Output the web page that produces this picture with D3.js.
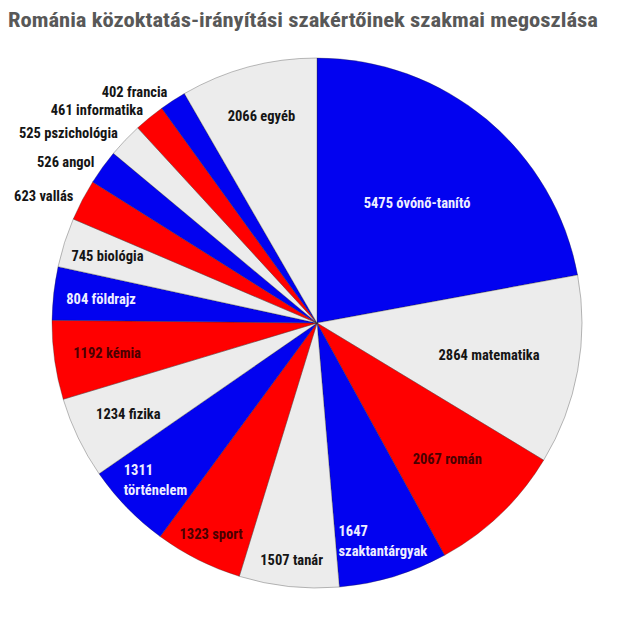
<!DOCTYPE html>
<html><head><meta charset="utf-8">
<script src="https://cdn.jsdelivr.net/npm/d3@7"></script>
<style>
html,body{margin:0;padding:0;background:#fff;}
text{font-family:"Liberation Sans Narrow","Arial Narrow","Roboto Condensed","DejaVu Sans Condensed",sans-serif;font-weight:bold;}
</style></head>
<body><svg id="c" width="640" height="622"></svg>
<script>
const title = "Románia közoktatás-irányítási szakértőinek szakmai megoszlása";
const categories = ["óvónő-tanító","matematika","román","szaktantárgyak","tanár","sport","történelem","fizika","kémia","földrajz","biológia","vallás","angol","pszichológia","informatika","francia","egyéb"];
const values = [5475,2864,2067,1647,1507,1323,1311,1234,1192,804,745,623,526,525,461,402,2066];

const W = 640, H = 622;
const cx = 317, cy = 323, R = 265;
const BLUE = "#0202f0", GRAY = "#ececec", RED = "#ff0000";
const svg = d3.select("#c");

svg.append("text").attr("x", 8).attr("y", 27).attr("font-size", 20.5)
  .attr("fill", "#585858").text(title)
  .each(function(){ const w=this.getComputedTextLength(); if (w>0) d3.select(this).attr("textLength",590).attr("lengthAdjust","spacingAndGlyphs"); });

const color = d3.scaleOrdinal().domain(categories).range([BLUE, GRAY, RED]);
const textColor = {[BLUE]:"#eeeeff",[GRAY]:"#151515",[RED]:"#4a0000"};

const data = categories.map((c,i)=>({cat:c, val:values[i]}));
const pie = d3.pie().sort(null).value(d=>d.val);
const arcs = pie(data);
const arc = d3.arc().innerRadius(0).outerRadius(R);

const g = svg.append("g").attr("transform", `translate(${cx},${cy})`);
g.selectAll("path").data(arcs).join("path")
  .attr("d", arc)
  .attr("fill", d=>color(d.data.cat))
  .attr("stroke", "rgba(40,40,40,0.45)")
  .attr("stroke-width", 0.7);

// label layout (radius as fraction of R for inside labels)
const insideFrac = {"óvónő-tanító":0.59,"matematika":0.66,"román":0.71,"szaktantárgyak":0.86,"tanár":0.90,"sport":0.89,"történelem":0.85,"fizika":0.79,"kémia":0.80,"földrajz":0.82,"biológia":0.83,"egyéb":0.81};
const twoLine = new Set(["szaktantárgyak","történelem"]);
const fs = 14.5;

arcs.forEach(d=>{
  const mid = (d.startAngle + d.endAngle)/2;
  const c = d.data.cat;
  const lbl = d.data.val + " " + c;
  if (insideFrac[c] === undefined) {
    const r = R + 10;
    g.append("text").attr("x", r*Math.sin(mid)).attr("y", -r*Math.cos(mid))
      .attr("text-anchor","end").attr("dy","0.35em").attr("font-size", fs)
      .attr("fill","#151515").text(lbl);
  } else {
    const r = R*insideFrac[c];
    const x = r*Math.sin(mid), y = -r*Math.cos(mid);
    const t = g.append("text").attr("font-size", fs).attr("fill", textColor[color(c)]);
    if (twoLine.has(c)) {
      const lines = [String(d.data.val), c];
      t.selectAll("tspan").data(lines).join("tspan")
        .attr("x", x).attr("y", (l,i)=> y + (i-0.5)*20).attr("dy","0.35em").text(l=>l);
      const bb = t.node().getBBox();
      t.selectAll("tspan").attr("x", x - bb.width/2);
    } else {
      t.attr("x", x).attr("y", y).attr("dy","0.35em").attr("text-anchor","middle").text(lbl);
    }
  }
});
</script></body></html>
